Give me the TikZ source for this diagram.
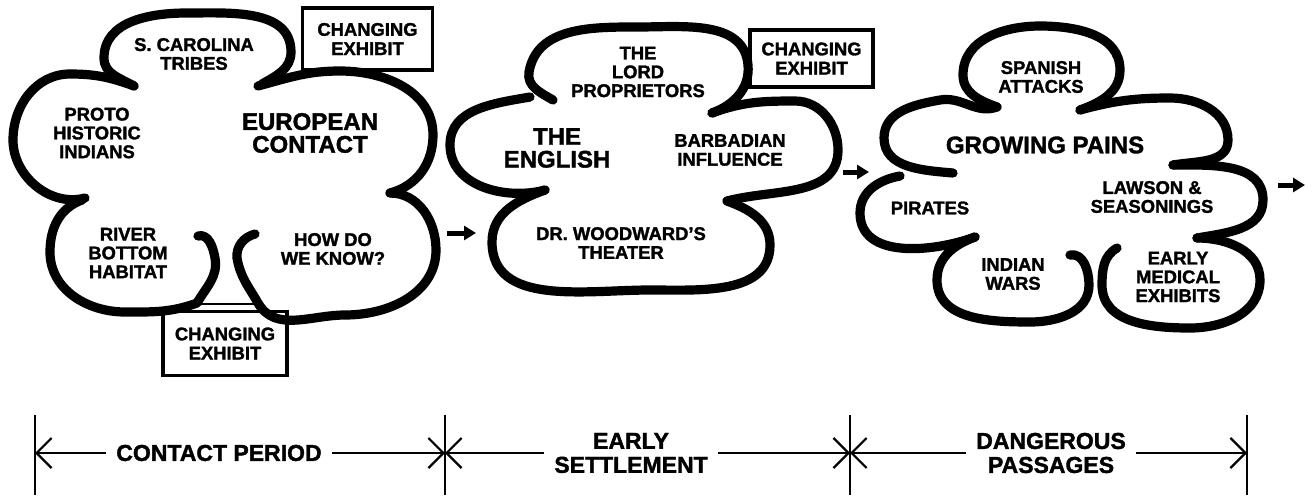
\documentclass[tikz,border=0pt]{standalone}
\usepackage{fontspec}
\setmainfont{Liberation Sans}[BoldFeatures={FakeBold=1.6}]
\usetikzlibrary{arrows.meta}

\begin{document}
\begin{tikzpicture}[x=0.5pt,y=0.5pt,
  lobe/.style={line width=4.6pt,line cap=round,line join=round},
  small/.style={font=\bfseries\fontsize{9.2}{9.4}\selectfont,align=center,inner sep=0pt},
  big/.style={font=\bfseries\fontsize{12}{11.4}\selectfont,align=center,inner sep=0pt},
  exhibit/.style={draw,line width=1.8pt,font=\bfseries\fontsize{9.2}{9.6}\selectfont,align=center,inner sep=0pt},
  tl/.style={line width=1.1pt},
  tlabel/.style={font=\bfseries\fontsize{11.5}{12}\selectfont,align=center,inner ysep=0pt,inner xsep=5pt},
  barb/.tip={Straight Barb[length=7.5pt,width=15pt]},
  flow/.style={line width=2.5pt,-{Triangle[length=6pt,width=7pt]}}]
\useasboundingbox (0,0) rectangle (1315,-498);

% ---------- Contact period cloud ----------
\draw[lobe] (134,-86) to[out=150,in=270] (104,-58) to[out=90,in=180] (187,-13)
  to[out=0,in=90] (291,-52) to[out=270,in=30] (262,-84);
\draw[lobe] (258,-86) to[out=15,in=180] (340,-71) to[out=0,in=90] (433,-135)
  to[out=270,in=15] (390,-193);
\draw[lobe] (390,-193) to[out=0,in=90] (436,-250) to[out=270,in=0] (345,-315)
  to[out=180,in=300] (258,-303) to[out=120,in=280] (237,-258) to[out=95,in=195] (255,-234);
\draw[line width=1.4pt] (197,-304) -- (258,-304);
\draw[lobe] (198,-236) to[out=15,in=100] (215,-258) to[out=280,in=60] (197,-303)
  to[out=200,in=0] (125,-312) to[out=180,in=270] (50,-252) to[out=90,in=200] (82,-200);
\draw[lobe] (85,-198) to[out=195,in=270] (13,-140) to[out=90,in=180] (70,-74)
  to[out=0,in=160] (134,-86);

\node[small] (sc) at (194,-54) {S. CAROLINA\\TRIBES};
\node[small] (proto) at (97,-133) {PROTO\\HISTORIC\\INDIANS};
\node[big] (euro) at (310,-133) {EUROPEAN\\CONTACT};
\node[small] (river) at (128,-253) {RIVER\\BOTTOM\\HABITAT};
\node[small] (how) at (333,-249) {HOW DO\\WE KNOW?};
\node[exhibit,minimum width=65pt,minimum height=31pt] (ex1) at (367.5,-39) {CHANGING\\EXHIBIT};
\node[exhibit,minimum width=62pt,minimum height=32pt] (ex2) at (225,-343.5) {CHANGING\\EXHIBIT};

% ---------- Early settlement cloud ----------
\draw[lobe] (553,-100) to[out=150,in=260] (529,-72) to[out=80,in=180] (638,-27)
  to[out=0,in=95] (748,-65) to[out=275,in=20] (712,-113);
\draw[lobe] (712,-113) to[out=20,in=180] (795,-101) to[out=0,in=90] (838,-150)
  to[out=270,in=15] (727,-201);
\draw[lobe] (727,-201) to[out=-20,in=90] (770,-245) to[out=270,in=0] (650,-290)
  to[out=180,in=270] (492,-242) to[out=90,in=200] (545,-190);
\draw[lobe] (545,-190) to[out=195,in=270] (450,-145) to[out=90,in=190] (530,-97);

\node[small] (lord) at (638,-72) {THE\\LORD\\PROPRIETORS};
\node[big] (english) at (557,-148) {THE\\ENGLISH};
\node[small] (barb) at (730,-150) {BARBADIAN\\INFLUENCE};
\node[small] (wood) at (621,-243) {DR. WOODWARD’S\\THEATER};
\node[exhibit,minimum width=61.5pt,minimum height=28.5pt] (ex3) at (811.5,-58.5) {CHANGING\\EXHIBIT};

% ---------- Dangerous passages cloud ----------
\draw[lobe] (997,-107) to[out=160,in=270] (963,-75) to[out=90,in=180] (1040,-26)
  to[out=0,in=90] (1120,-70) to[out=270,in=20] (1080,-110);
\draw[lobe] (1080,-110) to[out=15,in=180] (1170,-98) to[out=0,in=90] (1228,-140)
  to[out=270,in=10] (1173,-165);
\draw[lobe] (1173,-165) to[out=0,in=90] (1263,-200) to[out=270,in=10] (1197,-238);
\draw[lobe] (1197,-238) to[out=0,in=90] (1260,-280) to[out=270,in=0] (1190,-328)
  to[out=180,in=270] (1102,-285) to[out=90,in=210] (1117,-248);
\draw[lobe] (1070,-255) to[out=10,in=90] (1089,-285) to[out=270,in=0] (1030,-322)
  to[out=180,in=270] (937,-280) to[out=90,in=200] (975,-237);
\draw[lobe] (975,-237) to[out=200,in=270] (860,-213) to[out=90,in=190] (900,-176);
\draw[lobe] (953,-173) to[out=175,in=270] (884,-138) to[out=90,in=190] (940,-100)
  to[out=10,in=200] (997,-107);

\node[small] (spanish) at (1041,-77) {SPANISH\\ATTACKS};
\node[big] (growing) at (1045,-145) {GROWING PAINS};
\node[small] (pirates) at (930,-208) {PIRATES};
\node[small] (lawson) at (1152,-197) {LAWSON \&\\SEASONINGS};
\node[small] (indian) at (1013,-274) {INDIAN\\WARS};
\node[small] (early) at (1178,-277) {EARLY\\MEDICAL\\EXHIBITS};

% ---------- flow arrows ----------
\coordinate (a1s) at (447,-233); \coordinate (a1e) at (476,-233);
\coordinate (a2s) at (843,-172); \coordinate (a2e) at (869,-172);
\coordinate (a3s) at (1278,-185); \coordinate (a3e) at (1305,-185);
\draw[flow] (a1s) -- (a1e);
\draw[flow] (a2s) -- (a2e);
\draw[flow] (a3s) -- (a3e);

% ---------- time line ----------
\coordinate (t0) at (35,-453);
\coordinate (t1) at (445,-453);
\coordinate (t2) at (850,-453);
\coordinate (t3) at (1247,-453);
\foreach \t in {t0,t1,t2,t3} \draw[tl] (\t) ++(0,38) -- ++(0,-80);
\node[tlabel] (p1) at (219,-453) {CONTACT PERIOD};
\node[tlabel] (p2) at (631,-453) {EARLY\\SETTLEMENT};
\node[tlabel] (p3) at (1051,-453) {DANGEROUS\\PASSAGES};
\draw[tl,barb-] (t0) -- (p1);
\draw[tl,-barb] (p1) -- (t1);
\draw[tl,barb-] (t1) -- (p2);
\draw[tl,-barb] (p2) -- (t2);
\draw[tl,barb-] (t2) -- (p3);
\draw[tl,-barb] (p3) -- (t3);
\end{tikzpicture}
\end{document}
